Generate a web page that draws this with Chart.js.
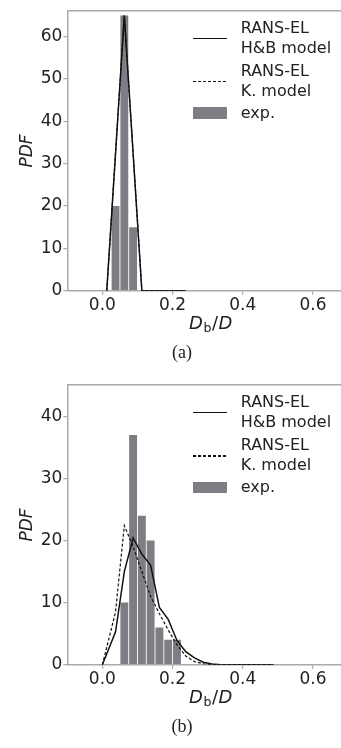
<!DOCTYPE html>
<html>
<head>
<meta charset="utf-8">
<script src="https://cdn.jsdelivr.net/npm/chart.js@4/dist/chart.umd.min.js"></script>
<style>
  body { margin: 0; background: #fff; width: 341px; height: 748px; overflow: hidden; position: relative; font-family: "DejaVu Sans", sans-serif; color: #222; }
  .panel { position: absolute; left: 0; width: 341px; height: 345px; }
  .panel canvas { position: absolute; left: 0; top: 0; }
  .xtitle { position: absolute; left: 211px; top: 323.5px; transform: translate(-50%, -50%); font-size: 18px; letter-spacing: 0.5px; line-height: 1; white-space: nowrap; }
  .xtitle sub { font-size: 0.7em; vertical-align: -0.25em; font-style: normal; }
  .leg-line { position: absolute; left: 193px; width: 34px; height: 1.5px; background: #111; }
  .leg-dash { position: absolute; left: 193px; width: 34px; height: 1.2px; background: repeating-linear-gradient(to right, #111 0 3px, transparent 3px 5px); }
  .leg-patch { position: absolute; left: 193px; width: 34px; height: 11.7px; background: #7f7d84; }
  .leg-text { position: absolute; left: 240.7px; font-size: 16px; line-height: 19.5px; white-space: nowrap; }
  .caption { position: absolute; transform: translate(-50%, -50%); font-family: "Liberation Serif", serif; font-size: 18px; }
</style>
</head>
<body>

<div class="panel" id="panelA" style="top:0px">
  <canvas id="chartA" width="341" height="320"></canvas>
  <div class="xtitle"><i>D</i><sub>b</sub>/<i>D</i></div>
  <div class="leg-line" style="top:37.6px"></div>
  <div class="leg-text" style="top:18.2px">RANS-EL<br>H&amp;B model</div>
  <div class="leg-dash" style="top:81.1px"></div>
  <div class="leg-text" style="top:61px">RANS-EL<br>K. model</div>
  <div class="leg-patch" style="top:107.3px"></div>
  <div class="leg-text" style="top:103.2px">exp.</div>
</div>
<div class="caption" style="left:182px; top:352px">(a)</div>

<div class="panel" id="panelB" style="top:374.3px">
  <canvas id="chartB" width="341" height="320"></canvas>
  <div class="xtitle"><i>D</i><sub>b</sub>/<i>D</i></div>
  <div class="leg-line" style="top:37.6px"></div>
  <div class="leg-text" style="top:18.2px">RANS-EL<br>H&amp;B model</div>
  <div class="leg-dash" style="top:81.1px"></div>
  <div class="leg-text" style="top:61px">RANS-EL<br>K. model</div>
  <div class="leg-patch" style="top:107.3px"></div>
  <div class="leg-text" style="top:103.2px">exp.</div>
</div>
<div class="caption" style="left:182px; top:726px">(b)</div>

<script>
// shared x axis
const xTicks = [0.0, 0.2, 0.4, 0.6];

// (a)
const yTicksA = [0, 10, 20, 30, 40, 50, 60];
const binsA = [0.0375, 0.0625, 0.0875];
const expA = [20, 65, 15];
const modelXA = [0.0125, 0.0625, 0.1125, 0.1375, 0.1625, 0.1875, 0.2125, 0.2375];
const hbA = [0, 65, 0, 0, 0, 0, 0, 0];
const kA = [0, 65, 0, 0, 0, 0, 0, 0];

// (b)
const yTicksB = [0, 10, 20, 30, 40];
const binsB = [0.0625, 0.0875, 0.1125, 0.1375, 0.1625, 0.1875, 0.2125];
const expB = [10, 37, 24, 20, 6, 4, 4];
const modelXB = [0, 0.0375, 0.0625, 0.0875, 0.1125, 0.1375, 0.1625, 0.1875, 0.2125, 0.2375,
                 0.2625, 0.2875, 0.3125, 0.3375, 0.3625, 0.3875, 0.4125, 0.4375, 0.4625, 0.4875];
const hbB = [0, 5.3, 15, 20.4, 17.8, 16, 9.2, 7.3, 3.9, 2.1, 1.1, 0.4, 0.1, 0, 0, 0, 0, 0, 0, 0];
const kB = [0, 8.5, 22.4, 19, 15, 11, 8.2, 5.6, 3.2, 1.4, 0.5, 0.15, 0, 0, 0, 0, 0, 0, 0, 0];

const spine = '#aaaaaa';
const tickFont = { family: 'DejaVu Sans', size: 17 };

function pts(xs, ys) {
  return xs.map((x, i) => ({ x: x, y: ys[i] }));
}

function makeChart(id, bins, exp, mx, hb, k, yMax, yTicks) {
  const ctx = document.getElementById(id).getContext('2d');
  return new Chart(ctx, {
    type: 'bar',
    data: {
      datasets: [
        {
          type: 'line', label: 'RANS-EL H&B model', data: pts(mx, hb),
          borderColor: '#111', borderWidth: 1.5, pointRadius: 0, tension: 0, order: 1
        },
        {
          type: 'line', label: 'RANS-EL K. model', data: pts(mx, k),
          borderColor: '#111', borderWidth: 1.2, borderDash: [3, 2], pointRadius: 0, tension: 0, order: 2
        },
        {
          type: 'bar', label: 'exp.', data: pts(bins, exp),
          backgroundColor: '#7f7d84', barPercentage: 0.9, categoryPercentage: 1, grouped: false, order: 3
        }
      ]
    },
    options: {
      responsive: false,
      animation: false,
      devicePixelRatio: 1,
      layout: { padding: { top: 5, left: 0, right: 0, bottom: 0 } },
      plugins: { legend: { display: false }, tooltip: { enabled: false } },
      scales: {
        x: {
          type: 'linear', min: -0.1, max: 0.68, offset: false,
          afterBuildTicks: s => { s.ticks = xTicks.map(v => ({ value: v })); },
          afterFit: s => { s.height = 29.3; },
          grid: { display: true, offset: false, drawOnChartArea: false, tickLength: 4, color: spine, lineWidth: 1.2 },
          border: { display: true, color: spine, width: 1.5 },
          ticks: { color: '#222', font: tickFont, padding: 1, maxRotation: 0, callback: v => v.toFixed(1) }
        },
        x2: {
          type: 'linear', position: 'top', min: -0.1, max: 0.68, offset: false,
          afterFit: s => { s.height = 0; },
          grid: { display: false, offset: false },
          ticks: { display: false },
          border: { display: true, color: spine, width: 1.5 }
        },
        y: {
          min: 0, max: yMax,
          afterBuildTicks: s => { s.ticks = yTicks.map(v => ({ value: v })); },
          afterFit: s => { s.width = 67.3; },
          grid: { display: true, drawOnChartArea: false, tickLength: 4, color: spine, lineWidth: 1.2 },
          border: { display: true, color: spine, width: 1.5 },
          ticks: { color: '#222', font: tickFont, padding: 1, callback: v => String(v) },
          title: {
            display: true, text: 'PDF', color: '#222',
            font: { family: 'DejaVu Sans', size: 17, style: 'italic' },
            padding: { top: 17.8, bottom: 0 }
          }
        }
      }
    }
  });
}

makeChart('chartA', binsA, expA, modelXA, hbA, kA, 66, yTicksA);
makeChart('chartB', binsB, expB, modelXB, hbB, kB, 45, yTicksB);
</script>
</body>
</html>
